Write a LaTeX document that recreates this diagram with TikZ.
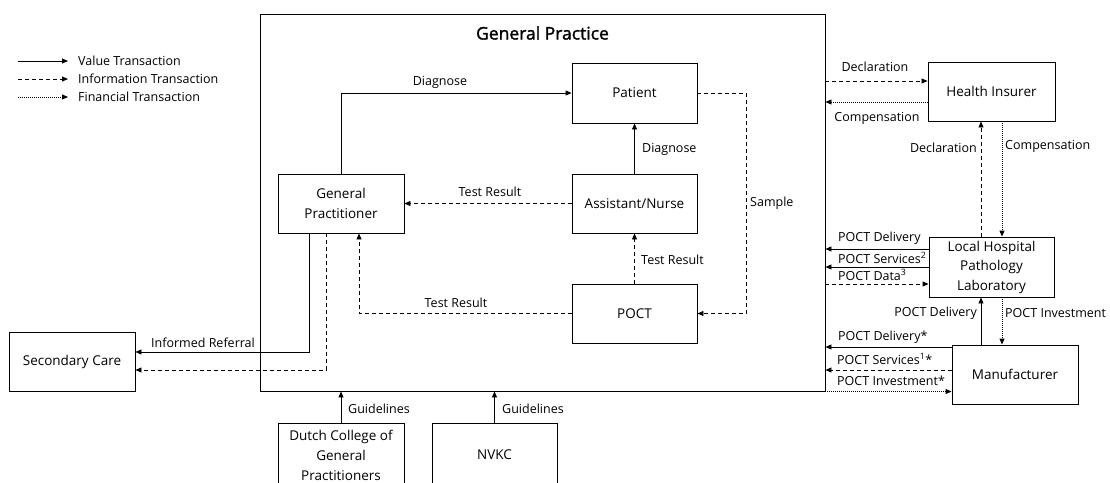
\documentclass[tikz,border=0pt]{standalone}
\usepackage{fontspec}
\setmainfont{Open Sans}
\newfontfamily\titlefont[FakeBold=1.6]{Open Sans}
\usetikzlibrary{arrows.meta,calc}
\begin{document}
\begin{tikzpicture}[x=1pt,y=-1pt,
  box/.style={draw,line width=0.9pt,inner sep=0pt,align=center,font=\fontsize{13.5}{20}\selectfont},
  lbl/.style={inner sep=0pt,font=\fontsize{12.5}{15}\selectfont},
  conn/.style={line width=0.9pt,-{Triangle[length=6pt,width=5pt]}},
  val/.style={conn},
  info/.style={conn,dash pattern=on 4pt off 3pt},
  fin/.style={conn,dash pattern=on 1pt off 1pt},
]
\useasboundingbox (0,0) rectangle (1110,482);
\clip (0,0) rectangle (1110,482);

% legend
\coordinate (l1a) at (18,61);  \coordinate (l1b) at (68,61);
\coordinate (l2a) at (18,79);  \coordinate (l2b) at (68,79);
\coordinate (l3a) at (18,97);  \coordinate (l3b) at (68,97);
\draw[val] (l1a) -- (l1b);
\draw[info] (l2a) -- (l2b);
\draw[fin] (l3a) -- (l3b);
\node[lbl,anchor=west] (l1t) at (78,61) {Value Transaction};
\node[lbl,anchor=west] (l2t) at (78,79) {Information Transaction};
\node[lbl,anchor=west] (l3t) at (78,97) {Financial Transaction};

% general practice
\node[box,minimum width=565pt,minimum height=377pt] (gpbox) at (542.5,202.5) {};
\node[inner sep=0pt,font=\fontsize{17.5}{20}\titlefont] (title) at (542.5,33) {General Practice};

\node[box,minimum width=125pt,minimum height=60pt] (pat) at (634.5,93) {Patient};
\node[box,minimum width=125pt,minimum height=59pt] (an) at (634.5,203.5) {Assistant/Nurse};
\node[box,minimum width=125pt,minimum height=59pt] (poct) at (634.5,313.5) {POCT};
\node[box,minimum width=126pt,minimum height=59pt] (gpr) at (341,203.5) {General\\Practitioner};

\node[box,minimum width=126pt,minimum height=59pt] (sec) at (72,361.5) {Secondary Care};
\node[box,minimum width=126pt,minimum height=64pt] (dutch) at (341,455) {Dutch College of\\General\\Practitioners};
\node[box,minimum width=125pt,minimum height=64pt] (nvkc) at (494.5,455) {NVKC};

\node[box,minimum width=127pt,minimum height=59pt] (hi) at (991.5,91.5) {Health Insurer};
\node[box,minimum width=125pt,minimum height=60pt,font=\fontsize{13.5}{19.5}\selectfont] (lab) at (991.5,267) {Local Hospital\\Pathology\\Laboratory};
\node[box,minimum width=126pt,minimum height=59pt] (man) at (1015,374.5) {Manufacturer};

% inside connectors
\draw[val] (gpr.north) |- (pat.west);
\node[lbl] (dg1) at (440,82) {Diagnose};
\draw[val] (an.north) -- (pat.south);
\node[lbl,anchor=west] (dg2) at (642,149) {Diagnose};
\draw[info] (an.west) -- (gpr.east);
\node[lbl] (tr1) at (490,192) {Test Result};
\draw[info] (poct.north) -- (an.south);
\node[lbl,anchor=west] (tr2) at (641,260) {Test Result};
\coordinate (gprs2) at ($(gpr.south)+(18,0)$);
\draw[info] (poct.west) -| (gprs2);
\node[lbl] (tr3) at (456,303) {Test Result};
\coordinate (smp) at ($(pat.east)+(49,0)$);
\draw[info] (pat.east) -- (smp) |- (poct.east);
\node[lbl,anchor=west] (smpl) at (750,203) {Sample};

% referral
\coordinate (ref1) at ($(gpr.south)+(-32,0)$);
\coordinate (ref2) at ($(gpr.south)+(-15,0)$);
\coordinate (sec1) at ($(sec.east)+(0,-9.5)$);
\coordinate (sec2) at ($(sec.east)+(0,8.5)$);
\draw[val] (ref1) |- (sec1);
\draw[info] (ref2) |- (sec2);
\node[lbl] (refl) at (203,343) {Informed Referral};

% guidelines
\draw[val] (dutch.north) -- (dutch.north |- gpbox.south);
\node[lbl,anchor=west] (g1) at (348,409) {Guidelines};
\draw[val] (nvkc.north) -- (nvkc.north |- gpbox.south);
\node[lbl,anchor=west] (g2) at (502,409) {Guidelines};

% health insurer
\coordinate (hid) at ($(hi.west)+(0,-10.5)$);
\coordinate (hic) at ($(hi.west)+(0,10.5)$);
\draw[info] (hid -| gpbox.east) -- (hid);
\node[lbl] (decl1) at (875,67) {Declaration};
\draw[fin] (hic) -- (hic -| gpbox.east);
\node[lbl] (comp1) at (877,118) {Compensation};

\coordinate (labn1) at ($(lab.north)+(-10.5,0)$);
\coordinate (labn2) at ($(lab.north)+(10.5,0)$);
\draw[info] (labn1) -- (labn1 |- hi.south);
\draw[fin] (labn2 |- hi.south) -- (labn2);
\node[lbl,anchor=east] (decl2) at (977,148) {Declaration};
\node[lbl,anchor=west] (comp2) at (1005,146) {Compensation};

% lab to gp
\coordinate (lab1) at ($(lab.west)+(0,-18)$);
\coordinate (lab2) at ($(lab.west)+(0,0)$);
\coordinate (lab3) at ($(lab.west)+(0,17)$);
\draw[val] (lab1) -- (lab1 -| gpbox.east);
\draw[val] (lab2) -- (lab2 -| gpbox.east);
\draw[info] (lab3 -| gpbox.east) -- (lab3);
\node[lbl,anchor=west] (pd1) at (838,238) {POCT Delivery};
\node[lbl,anchor=west] (ps2) at (838,258) {POCT Services\textsuperscript{2}};
\node[lbl,anchor=west] (pdt) at (838,275) {POCT Data\textsuperscript{3}};

% manufacturer to lab
\coordinate (labs1) at ($(lab.south)+(-10.5,0)$);
\coordinate (labs2) at ($(lab.south)+(10.5,0)$);
\draw[val] (labs1 |- man.north) -- (labs1);
\draw[fin] (labs2) -- (labs2 |- man.north);
\node[lbl,anchor=east] (pd2) at (977,313) {POCT Delivery};
\node[lbl,anchor=west] (pi1) at (1005,313) {POCT Investment};

% manufacturer to gp
\coordinate (man1) at ($(man.west)+(0,-27.5)$);
\coordinate (man2) at ($(man.west)+(0,-4.5)$);
\coordinate (man3) at ($(man.west)+(0,17)$);
\draw[val] (man1) -- (man1 -| gpbox.east);
\draw[info] (man2) -- (man2 -| gpbox.east);
\draw[fin] (man3 -| gpbox.east) -- (man3);
\node[lbl,anchor=west] (pd3) at (838,337) {POCT Delivery*};
\node[lbl,anchor=west] (ps1) at (837,359) {POCT Services\textsuperscript{1}*};
\node[lbl,anchor=west] (pi2) at (837,381) {POCT Investment*};
\end{tikzpicture}
\end{document}
